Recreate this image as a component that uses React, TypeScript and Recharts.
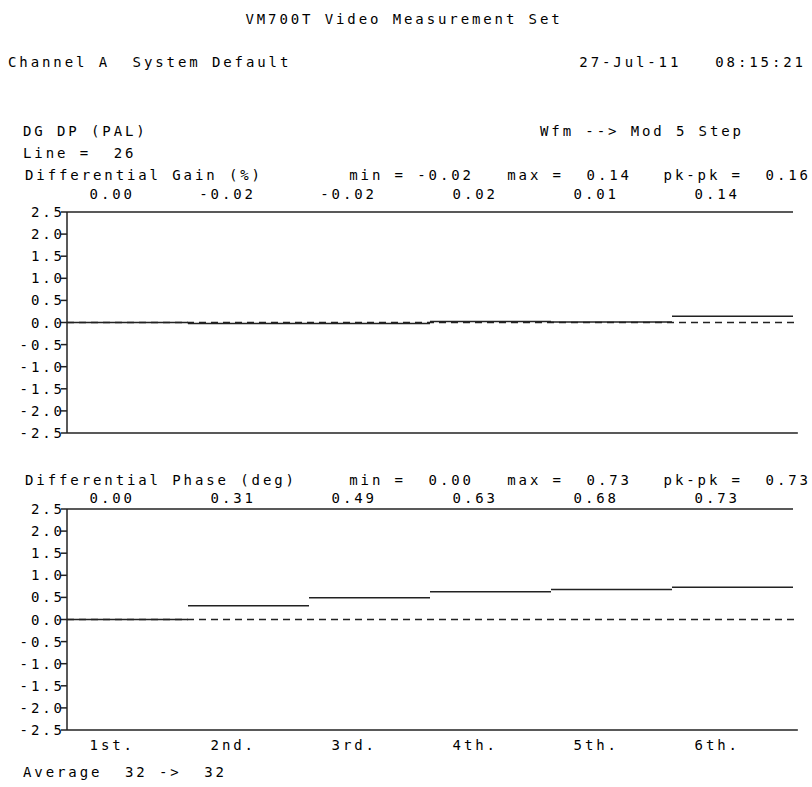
import React from 'react';
import { LineChart, Line, XAxis, YAxis, ReferenceLine } from 'recharts';

// ---- data ----
const CATEGORIES = ['1st.', '2nd.', '3rd.', '4th.', '5th.', '6th.'];
const GAIN_VALUES = [0.0, -0.02, -0.02, 0.02, 0.01, 0.14];
const PHASE_VALUES = [0.0, 0.31, 0.49, 0.63, 0.68, 0.73];
const Y_TICKS = [2.5, 2.0, 1.5, 1.0, 0.5, 0.0, -0.5, -1.0, -1.5, -2.0, -2.5];
const BOUNDARY_TICKS = [1, 2, 3, 4, 5, 6];
const CENTER_TICKS = [0.5, 1.5, 2.5, 3.5, 4.5, 5.5];

// ---- style ----
const FONT = "'DejaVu Sans Mono', monospace";
const FS = 14;
const LS = 2.9;
const INK = '#222';
const SW = 1.5;
const W = 812;
const PLOT_LEFT = 67;
const X_MAX = 6.04;
const PLOT_RIGHT = PLOT_LEFT + (726 * X_MAX) / 6;

const textStyle: React.CSSProperties = {
  fontFamily: FONT,
  fontSize: FS,
  letterSpacing: LS,
  fill: '#000',
  whiteSpace: 'pre',
};

const fmt2 = (v: number) => v.toFixed(2);

function T({ x, y, anchor = 'start', children }: any) {
  return (
    <text
      x={anchor === 'end' ? x + LS : x}
      y={y}
      textAnchor={anchor}
      xmlSpace="preserve"
      style={textStyle}
    >
      {children}
    </text>
  );
}

function makeSegments(values: number[]) {
  const out: { x: number; y: number | null }[] = [];
  values.forEach((v, i) => {
    out.push({ x: i, y: v });
    out.push({ x: i + 1, y: v });
    out.push({ x: i + 1, y: null });
  });
  return out;
}

function Panel({
  values,
  top,
  height,
  plotTop,
  plotBottom,
  showCats,
}: {
  values: number[];
  top: number;
  height: number;
  plotTop: number;
  plotBottom: number;
  showCats: boolean;
}) {
  const data = makeSegments(values);
  const nBottom = showCats ? 2 : 1;
  const ValueTick = (p: any) => {
    const idx = Math.floor(p.payload.value);
    return (
      <text x={p.x + 4.5 + LS} y={p.y} textAnchor="end" style={textStyle}>
        {fmt2(values[idx])}
      </text>
    );
  };
  const CatTick = (p: any) => {
    const idx = Math.floor(p.payload.value);
    return (
      <text x={p.x + 4.5 + LS} y={p.y} textAnchor="end" style={textStyle}>
        {CATEGORIES[idx]}
      </text>
    );
  };
  const YTick = (p: any) => (
    <text x={p.x + 2 + LS} y={p.y} dy={5} textAnchor="end" style={textStyle}>
      {Number(p.payload.value).toFixed(1)}
    </text>
  );
  return (
    <div style={{ position: 'absolute', left: 0, top, width: W, height }}>
      <LineChart
        width={W}
        height={height}
        data={data}
        margin={{
          top: plotTop - 1,
          right: W - PLOT_RIGHT,
          bottom: height - plotBottom - nBottom,
          left: 7,
        }}
      >
        <XAxis
          xAxisId="v"
          orientation="top"
          type="number"
          dataKey="x"
          domain={[0, X_MAX]}
          ticks={CENTER_TICKS}
          interval={0}
          height={1}
          axisLine={false}
          tickLine={false}
          tickSize={0}
          tickMargin={showCats ? 6 : 13}
          tick={ValueTick}
        />
        <XAxis
          xAxisId="b"
          type="number"
          dataKey="x"
          domain={[0, X_MAX]}
          ticks={BOUNDARY_TICKS}
          interval={0}
          height={1}
          tick={false}
          tickSize={5}
          axisLine={{ stroke: INK, strokeWidth: SW }}
          tickLine={{ stroke: INK, strokeWidth: SW }}
        />
        {showCats && (
          <XAxis
            xAxisId="c"
            type="number"
            dataKey="x"
            domain={[0, X_MAX]}
            ticks={CENTER_TICKS}
            interval={0}
            height={1}
            axisLine={false}
            tickLine={false}
            tickSize={0}
            tickMargin={19}
            tick={CatTick}
          />
        )}
        <YAxis
          type="number"
          domain={[-2.5, 2.5]}
          ticks={Y_TICKS}
          interval={0}
          width={60}
          tickSize={6}
          tickMargin={1}
          axisLine={{ stroke: INK, strokeWidth: SW }}
          tickLine={{ stroke: INK, strokeWidth: SW }}
          tick={YTick}
        />
        <ReferenceLine
          xAxisId="b"
          y={0}
          stroke={INK}
          strokeWidth={SW}
          strokeDasharray="7 5"
        />
        <ReferenceLine
          xAxisId="b"
          segment={[
            { x: 0, y: 2.5 },
            { x: 6, y: 2.5 },
          ]}
          stroke={INK}
          strokeWidth={SW}
        />
        <Line
          xAxisId="b"
          type="linear"
          dataKey="y"
          stroke={INK}
          strokeWidth={SW}
          dot={false}
          activeDot={false}
          connectNulls={false}
          isAnimationActive={false}
        />
      </LineChart>
    </div>
  );
}

function stats(values: number[]) {
  const mn = Math.min(...values);
  const mx = Math.max(...values);
  return { mn, mx, pk: mx - mn };
}

export default function App() {
  const g = stats(GAIN_VALUES);
  const p = stats(PHASE_VALUES);
  return (
    <div
      style={{
        position: 'absolute',
        left: 0,
        top: 0,
        width: W,
        height: 787,
        background: '#fff',
        overflow: 'hidden',
      }}
    >
      <Panel values={GAIN_VALUES} top={0} height={450} plotTop={212} plotBottom={433} showCats={false} />
      <Panel values={PHASE_VALUES} top={460} height={327} plotTop={49} plotBottom={270} showCats={true} />
      <svg
        width={W}
        height={787}
        style={{ position: 'absolute', left: 0, top: 0, pointerEvents: 'none' }}
      >
        <text x={404} y={24} textAnchor="middle" xmlSpace="preserve" style={textStyle}>
          VM700T Video Measurement Set
        </text>
        <T x={8} y={67}>{'Channel A  System Default'}</T>
        <T x={803} y={67} anchor="end">{'27-Jul-11   08:15:21'}</T>
        <T x={23} y={136}>DG DP (PAL)</T>
        <T x={540} y={136}>{'Wfm --> Mod 5 Step'}</T>
        <T x={23} y={158}>{'Line =  26'}</T>

        <T x={25} y={180}>{'Differential Gain (%)'}</T>
        <T x={471} y={180} anchor="end">{`min = ${fmt2(g.mn)}`}</T>
        <T x={629} y={180} anchor="end">{`max =  ${fmt2(g.mx)}`}</T>
        <T x={808} y={180} anchor="end">{`pk-pk =  ${fmt2(g.pk)}`}</T>

        <T x={25} y={485}>{'Differential Phase (deg)'}</T>
        <T x={471} y={485} anchor="end">{`min =  ${fmt2(p.mn)}`}</T>
        <T x={629} y={485} anchor="end">{`max =  ${fmt2(p.mx)}`}</T>
        <T x={808} y={485} anchor="end">{`pk-pk =  ${fmt2(p.pk)}`}</T>

        <T x={23} y={777}>{'Average  32 ->  32'}</T>
      </svg>
    </div>
  );
}
